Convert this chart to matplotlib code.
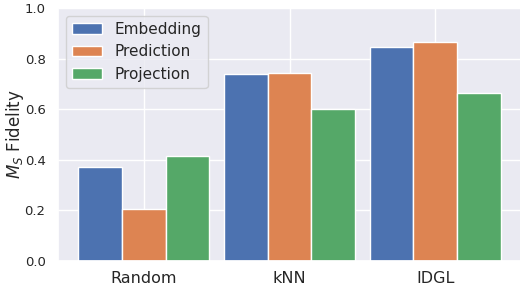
import matplotlib
matplotlib.use("Agg")
import matplotlib.pyplot as plt
import seaborn as sns
import numpy as np

sns.set_theme(style="darkgrid", palette="deep")
plt.rcParams['font.family'] = ['DejaVu Sans']

categories = ["Random", "kNN", "IDGL"]
series_names = ["Embedding", "Prediction", "Projection"]
embedding = [0.373, 0.740, 0.845]
prediction = [0.206, 0.744, 0.866]
projection = [0.416, 0.602, 0.665]
yticks = [0.0, 0.2, 0.4, 0.6, 0.8, 1.0]

fig = plt.figure(figsize=(5.2, 2.86), dpi=100)
ax = fig.add_axes([58/520, 25/286, 463/520, 253/286])

colors = sns.color_palette("deep")
x = np.arange(len(categories))
w = 0.3
for i, (name, vals) in enumerate(zip(series_names, [embedding, prediction, projection])):
    ax.bar(x + (i - 1) * w, vals, width=w, color=colors[i], label=name,
           edgecolor="white", linewidth=1)

ax.set_xticks(x)
ax.set_xticklabels(categories, fontsize=11.5)
ax.set_yticks(yticks)
ax.set_yticklabels([f"{v:.1f}" for v in yticks], fontsize=9.5)
ax.set_ylim(0, 1.0)
ax.set_xlim(-0.59, 2.59)
ax.set_ylabel(r"$M_S$ Fidelity", fontsize=12)
ax.yaxis.set_label_coords(-0.07, 0.5)
ax.legend(loc="upper left", fontsize=11)
ax.tick_params(axis="x", pad=1)
ax.tick_params(axis="y", pad=3)

fig.savefig("out.png", dpi=100)
